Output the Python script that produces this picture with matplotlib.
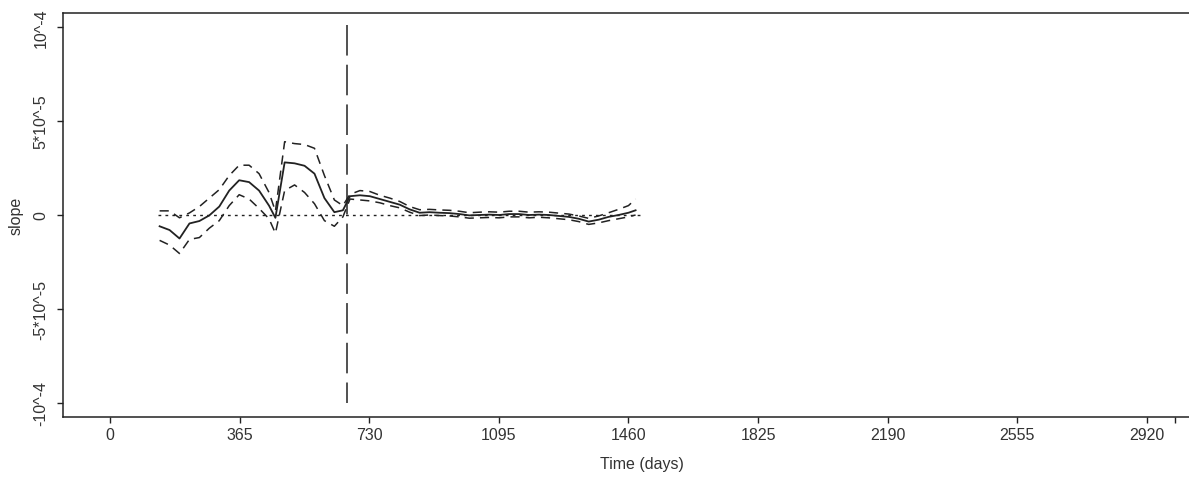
import matplotlib
matplotlib.use("Agg")
import matplotlib.pyplot as plt

plt.rcParams['font.family'] = ['Liberation Sans', 'DejaVu Sans']

# time of each estimate (days)
days = [140, 168, 196, 224, 252, 280, 308, 336, 364, 392, 420, 448, 466,
        492, 520, 548, 576, 604, 632, 656, 676,
        704, 732, 760, 788, 816, 844, 872, 900, 928, 956, 984, 1012, 1040,
        1068, 1096, 1124, 1152, 1180, 1208, 1236, 1264, 1292, 1320, 1348,
        1376, 1404, 1432, 1460, 1480]

# slope estimate and its confidence bounds (units of 1e-5)
slope = [-0.6, -0.8, -1.25, -0.45, -0.32, -0.02, 0.45, 1.3, 1.85, 1.75,
         1.3, 0.5, -0.15, 2.8, 2.75, 2.62, 2.2, 0.9, 0.15, 0.25, 1.0,
         1.05, 1.0, 0.85, 0.7, 0.55, 0.3, 0.12, 0.15, 0.12, 0.1, 0.05,
         -0.02, 0.0, 0.02, 0.0, 0.05, 0.05, 0.0, 0.02, 0.0, -0.05, -0.1,
         -0.2, -0.35, -0.25, -0.1, 0.0, 0.12, 0.25]
upper = [0.22, 0.22, -0.15, 0.11, 0.45, 0.9, 1.35, 2.1, 2.65, 2.65,
         2.2, 1.2, 0.2, 3.9, 3.8, 3.75, 3.55, 2.1, 0.8, 0.5, 1.1,
         1.3, 1.25, 1.05, 0.9, 0.72, 0.45, 0.28, 0.3, 0.27, 0.25, 0.2,
         0.12, 0.15, 0.17, 0.15, 0.2, 0.2, 0.15, 0.17, 0.15, 0.1, 0.05,
         -0.05, -0.18, -0.05, 0.12, 0.3, 0.5, 0.85]
lower = [-1.35, -1.6, -2.05, -1.3, -1.2, -0.7, -0.3, 0.5, 1.08, 0.85,
         0.35, -0.2, -0.97, 1.3, 1.6, 1.2, 0.6, -0.3, -0.6, -0.1, 0.85,
         0.8, 0.75, 0.65, 0.5, 0.38, 0.15, -0.03, 0.0, -0.03, -0.05, -0.1,
         -0.17, -0.15, -0.13, -0.15, -0.1, -0.1, -0.15, -0.12, -0.15, -0.2,
         -0.25, -0.35, -0.5, -0.42, -0.3, -0.2, -0.1, 0.0]

zero_span = [135, 1492]
change_day = 667
change_span = [10.1, -10.0]

x_ticks = [0, 365, 730, 1095, 1460, 1825, 2190, 2555, 2920, 3000]
x_tick_labels = ['0', '365', '730', '1095', '1460', '1825', '2190',
                 '2555', '2920', '']
y_ticks = [-10, -5, 0, 5, 10]
y_tick_labels = ['-10^-4', '-5*10^-5', '0', '5*10^-5', '10^-4']

ink = '#222222'
text_c = '#333333'

W, H = 1189, 481
fig = plt.figure(figsize=(W / 100, H / 100), dpi=100)
left_px, right_px, top_px, bottom_px = 63, 1195, 14, 418
ax = fig.add_axes([left_px / W, 1 - bottom_px / H,
                   (right_px - left_px) / W, (bottom_px - top_px) / H])

ax.plot(days, slope, color=ink, lw=1.3)
ax.plot(days, upper, color=ink, lw=1.1, dashes=(6, 4))
ax.plot(days, lower, color=ink, lw=1.1, dashes=(6, 4))
ax.plot(zero_span, [0, 0], color=ink, lw=1.0, dashes=(2, 3))
ax.plot([change_day, change_day], change_span, color=ink, lw=1.1,
        dashes=(20, 6))

ax.set_xlim(-132, 3055)
ax.set_ylim(-10.75, 10.75)
ax.set_xticks(x_ticks)
ax.set_xticklabels(x_tick_labels)
ax.set_yticks(y_ticks)
ax.set_yticklabels(y_tick_labels, rotation=90, va='center')

ax.tick_params(direction='out', length=4.5, width=1.0, colors=ink,
               labelcolor=text_c, labelsize=11.5)
ax.tick_params(axis='x', pad=3)
ax.tick_params(axis='y', pad=6)
for s in ax.spines.values():
    s.set_color(ink)
    s.set_linewidth(1.1)

ax.set_xlabel('Time (days)', fontsize=11.5, color=text_c)
ax.xaxis.set_label_coords((642 - left_px) / (right_px - left_px),
                          -(457 - bottom_px) / (bottom_px - top_px))
ax.set_ylabel('slope', fontsize=11.5, color=text_c, labelpad=7)

fig.savefig('out.png', dpi=100, facecolor='white')
